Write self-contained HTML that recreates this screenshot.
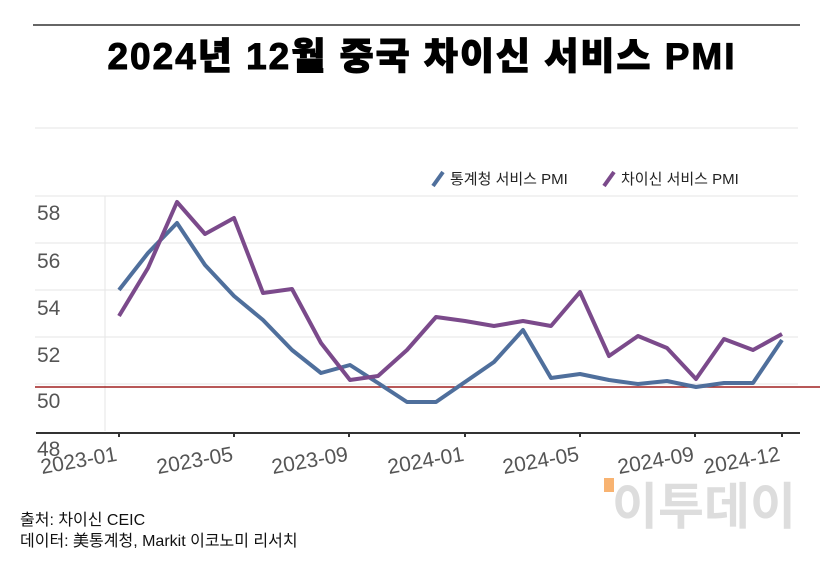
<!DOCTYPE html>
<html><head><meta charset="utf-8"><style>
body{margin:0;background:#fff;width:840px;height:559px;overflow:hidden;font-family:"Liberation Sans","Noto Sans CJK KR",sans-serif}
</style></head><body>
<svg width="840" height="559" xmlns="http://www.w3.org/2000/svg" font-family="'Liberation Sans','Noto Sans CJK KR',sans-serif">
<line x1="33" y1="25" x2="800" y2="25" stroke="#666" stroke-width="2"/>
<text x="422" y="69" text-anchor="middle" font-size="37" font-weight="900" fill="#000" stroke="#000" stroke-width="1" letter-spacing="2">2024년 12월 중국 차이신 서비스 PMI</text>
<g stroke="#e6e6e6" stroke-width="1">
<line x1="35" y1="128" x2="798" y2="128"/>
<line x1="35" y1="196" x2="798" y2="196"/>
<line x1="35" y1="243" x2="798" y2="243"/>
<line x1="35" y1="290" x2="798" y2="290"/>
<line x1="35" y1="337" x2="798" y2="337"/>
<line x1="35" y1="384" x2="798" y2="384"/>
<line x1="105" y1="196" x2="105" y2="431"/>
</g>
<line x1="36" y1="433" x2="800" y2="433" stroke="#333" stroke-width="2"/>
<g fill="#333"><rect x="118" y="433" width="2" height="4"/><rect x="233" y="433" width="2" height="4"/><rect x="348" y="433" width="2" height="4"/><rect x="464" y="433" width="2" height="4"/><rect x="579" y="433" width="2" height="4"/><rect x="694" y="433" width="2" height="4"/><rect x="781" y="433" width="2" height="4"/></g>
<g font-size="21" fill="#555">
<text x="37" y="220">58</text><text x="37" y="268">56</text><text x="37" y="315">54</text><text x="37" y="362">52</text><text x="37" y="408">50</text><text x="37" y="456">48</text>
</g>
<g font-size="21" fill="#555">
<text transform="translate(42,474) rotate(-10)">2023-01</text>
<text transform="translate(158,474) rotate(-10)">2023-05</text>
<text transform="translate(273,474) rotate(-10)">2023-09</text>
<text transform="translate(389,474) rotate(-10)">2024-01</text>
<text transform="translate(504,474) rotate(-10)">2024-05</text>
<text transform="translate(619,474) rotate(-10)">2024-09</text>
<text transform="translate(705,474) rotate(-10)">2024-12</text>
</g>
<line x1="35" y1="387" x2="820" y2="387" stroke="#a02020" stroke-width="1.5"/>
<polyline fill="none" stroke="#4f6f9c" stroke-width="4" stroke-linejoin="round" points="119,290 148,253 177,223 205,265 234,296 263,320 292,350 321,373 350,365 378,383 407,402 436,402 465,382 494,362 523,330 551,378 580,374 609,380 638,384 667,381 696,387 724,383 753,383 782,340"/>
<polyline fill="none" stroke="#7b4a8b" stroke-width="4" stroke-linejoin="round" points="119,316 148,268 177,202 205,234 234,218 263,293 292,289 321,343 350,380 378,376 407,350 436,317 465,321 494,326 523,321 551,326 580,292 609,356 638,336 667,348 696,379 724,339 753,350 782,334"/>
<line x1="433" y1="186" x2="443" y2="172" stroke="#4f6f9c" stroke-width="4"/>
<text x="450" y="184" font-size="15" fill="#222">통계청 서비스 PMI</text>
<line x1="604" y1="186" x2="614" y2="172" stroke="#7b4a8b" stroke-width="4"/>
<text x="621" y="184" font-size="15" fill="#222">차이신 서비스 PMI</text>
<text x="612" y="524" font-size="50" fill="#ddd" font-weight="bold">이투데이</text>
<rect x="604" y="478" width="10" height="14" fill="#f6a04d" opacity="0.8"/>
<text x="20" y="525" font-size="16" fill="#111">출처: 차이신 CEIC</text>
<text x="20" y="546" font-size="16" fill="#111">데이터: 美통계청, Markit 이코노미 리서치</text>
</svg>
</body></html>
